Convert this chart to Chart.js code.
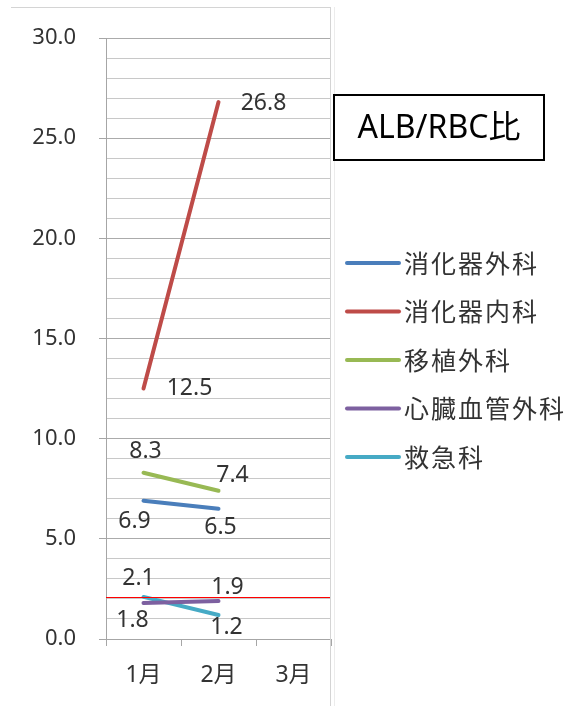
<!DOCTYPE html>
<html>
<head>
<meta charset="utf-8">
<script src="https://cdn.jsdelivr.net/npm/chart.js@4"></script>
<style>
  body { margin: 0; background: #fff; }
  canvas { display: block; }
</style>
</head>
<body>
<canvas id="chart" width="572" height="706"></canvas>
<script>
const months = ['1月', '2月', '3月'];
const seriesNames = ['消化器外科', '消化器内科', '移植外科', '心臓血管外科', '救急科'];
const gastroSurgery = [6.9, 6.5, null];
const gastroMedicine = [12.5, 26.8, null];
const transplantSurgery = [8.3, 7.4, null];
const cardioSurgery = [1.8, 1.9, null];
const emergency = [2.1, 1.2, null];
const referenceLine = 2.1;
const yTicks = { min: 0, max: 30, step: 1, major: 5 };
const chartTitle = 'ALB/RBC比';

const FONT = "'Noto Sans', 'Noto Sans CJK JP', sans-serif";
const TEXT = '#333333';

// label offsets (px) from each point, moved by hand like in the sheet
const mkSet = (label, data, color, offsets) => ({
    label, data,
    borderColor: color,
    backgroundColor: color,
    borderWidth: 4,
    borderCapStyle: 'round',
    pointRadius: 0,
    pointHoverRadius: 0,
    tension: 0,
    labelOffsets: offsets
});

const datasets = [
    mkSet(seriesNames[0], gastroSurgery, '#4A7EBB', [[-9, 21], [2, 19]]),
    mkSet(seriesNames[1], gastroMedicine, '#BE4B48', [[46, 0], [45, 1]]),
    mkSet(seriesNames[2], transplantSurgery, '#98B954', [[2, -21], [14, -15]]),
    mkSet(seriesNames[3], cardioSurgery, '#7D60A0', [[-11, 18], [9, -13]]),
    mkSet(seriesNames[4], emergency, '#46AAC5', [[-5, -18], [8, 12]])
];

const extrasPlugin = {
    id: 'extras',
    afterDatasetsDraw: (chart) => {
        const { ctx, chartArea: { left, right }, scales: { y } } = chart;
        ctx.save();
        // target line
        const ry = Math.round(y.getPixelForValue(referenceLine));
        ctx.fillStyle = '#FF0000';
        ctx.fillRect(left, ry, right - left, 1);

        // data labels
        ctx.font = '23px ' + FONT;
        ctx.fillStyle = TEXT;
        ctx.textAlign = 'center';
        ctx.textBaseline = 'middle';
        chart.data.datasets.forEach((ds, i) => {
            const meta = chart.getDatasetMeta(i);
            meta.data.forEach((pt, j) => {
                const v = ds.data[j];
                if (v == null) return;
                const off = ds.labelOffsets[j] || [0, 0];
                ctx.fillText(v.toFixed(1), pt.x + off[0], pt.y + off[1]);
            });
        });
        ctx.restore();
    },
    afterDraw: (chart) => {
        const { ctx } = chart;
        ctx.save();
        // chart frame edges
        ctx.fillStyle = '#d4d4d4';
        ctx.fillRect(11, 7, 320, 1);
        ctx.fillRect(330, 7, 1, 699);
        ctx.fillStyle = '#ececec';
        ctx.fillRect(334, 7, 1, 699);

        // title box
        ctx.fillStyle = '#fff';
        ctx.fillRect(334, 95, 210, 65);
        ctx.strokeStyle = '#000';
        ctx.lineWidth = 2;
        ctx.strokeRect(334, 95, 210, 65);
        ctx.fillStyle = '#000';
        ctx.font = '32px ' + FONT;
        ctx.textAlign = 'center';
        ctx.textBaseline = 'middle';
        ctx.fillText(chartTitle, 439, 129);

        // legend
        ctx.font = "25px 'Noto Sans CJK JP', sans-serif";
        ctx.letterSpacing = '2px';
        ctx.textAlign = 'left';
        chart.data.datasets.forEach((ds, i) => {
            const ly = 263 + i * 48.5;
            ctx.strokeStyle = ds.borderColor;
            ctx.lineWidth = 4;
            ctx.lineCap = 'round';
            ctx.beginPath();
            ctx.moveTo(347, ly);
            ctx.lineTo(399, ly);
            ctx.stroke();
            ctx.fillStyle = TEXT;
            ctx.fillText(ds.label, 404, ly);
        });
        ctx.restore();
    }
};

new Chart(document.getElementById('chart'), {
    type: 'line',
    data: { labels: months, datasets },
    options: {
        responsive: false,
        animation: false,
        layout: { padding: { left: 0, top: 38, right: 241, bottom: 0 } },
        plugins: {
            legend: { display: false },
            title: { display: false },
            tooltip: { enabled: false }
        },
        scales: {
            x: {
                offset: true,
                afterFit: (scale) => { scale.height = 67; },
                grid: {
                    offset: true,
                    drawOnChartArea: false,
                    drawTicks: true,
                    tickLength: 7,
                    tickColor: '#a6a6a6'
                },
                border: { color: '#a6a6a6' },
                ticks: {
                    padding: 16,
                    color: TEXT,
                    font: { family: FONT, size: 23 }
                }
            },
            y: {
                min: yTicks.min,
                max: yTicks.max,
                afterFit: (scale) => { scale.width = 106; },
                grid: {
                    color: (c) => c.tick.value % yTicks.major === 0 ? '#ababab' : '#c8c8c8',
                    tickColor: (c) => c.tick.value % yTicks.major === 0 ? '#a6a6a6' : 'rgba(0,0,0,0)',
                    tickLength: 7
                },
                border: { color: '#a6a6a6' },
                ticks: {
                    stepSize: yTicks.step,
                    autoSkip: false,
                    padding: 23,
                    color: TEXT,
                    font: { family: FONT, size: 22 },
                    callback: (v) => v % yTicks.major === 0 ? v.toFixed(1) : ''
                }
            }
        }
    },
    plugins: [extrasPlugin]
});
</script>
</body>
</html>
